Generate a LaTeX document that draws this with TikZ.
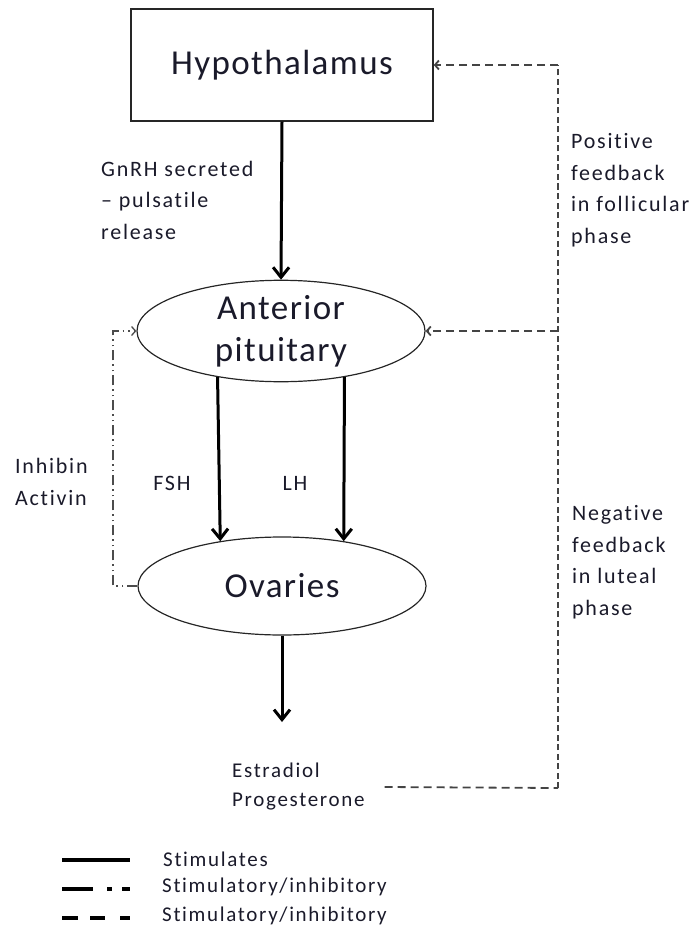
\documentclass[tikz,border=0pt]{standalone}
\usepackage{fontspec}
\setmainfont{Carlito}
\newfontfamily\organface{Carlito}[LetterSpace=4,Ligatures={NoCommon}]
\newfontfamily\labelface{Carlito}[LetterSpace=8,Ligatures={NoCommon}]
\usetikzlibrary{arrows.meta,shapes.geometric}
\definecolor{ink}{HTML}{1A1A2A}
\definecolor{fbgray}{HTML}{444444}
\newcommand{\organtext}{\organface\fontsize{35}{42}\selectfont}
\newcommand{\labeltext}{\labelface\fontsize{22}{31.5}\selectfont}
\newcommand{\keytext}{\labelface\fontsize{21}{28}\selectfont}

\begin{document}
\begin{tikzpicture}[x=1pt,y=-1pt,
  organ/.style={draw=black!85, line width=1.2pt, inner sep=0pt,
    font=\organtext, text=ink, align=center},
  lbl/.style={inner sep=0pt, font=\labeltext, text=ink, align=left},
  stim/.style={line width=3pt, black, -{Straight Barb[length=10pt,width=16pt]}},
  modline/.style={line width=1.3pt, black!70,
    dash pattern=on 10pt off 4pt on 1.5pt off 4pt on 1.5pt off 4pt},
  fbh/.style={line width=1.8pt, fbgray, dash pattern=on 8pt off 5pt},
  fbv/.style={line width=1.8pt, fbgray, dash pattern=on 6pt off 3.5pt},
  smalltip/.style={-{Straight Barb[length=4pt,width=9pt]}}
]
\useasboundingbox (0,0) rectangle (698,928);

% organs
\node[draw=black!85, line width=1.4pt, inner sep=0pt, minimum width=302pt,
  minimum height=112pt, font=\organtext, text=ink] (hyp) at (282,65) {Hypothalamus};
\node[organ, ellipse, minimum width=288pt, minimum height=98pt] (ap) at (281,331)
  {Anterior\\pituitary};
\node[organ, ellipse, minimum width=288pt, minimum height=98pt] (ov) at (282,586)
  {Ovaries};

% labels
\node[lbl, anchor=west] (gnrh) at (101,200) {GnRH secreted\\– pulsatile\\release};
\node[lbl, anchor=west] (pos) at (571,190) {Positive\\feedback\\in follicular\\phase};
\node[lbl, anchor=west] (neg) at (572,562) {Negative\\feedback\\in luteal\\phase};
\node[lbl, anchor=west] (inh) at (15,482) {Inhibin\\Activin};
\node[lbl] (fsh) at (172,483) {FSH};
\node[lbl] (lh) at (295,483) {LH};
\node[lbl, anchor=west, font=\labelface\fontsize{21}{29}\selectfont] (est) at (232,787)
  {Estradiol\\Progesterone};

% stimulatory pathway
\coordinate (hormones) at (282,722);
\draw[stim] (hyp.south) -- (ap.north);
\draw[stim] (ap.-144.5) -- (ov.144.5);
\draw[stim] (ap.-36.6) -- (ov.36.6);
\draw[stim] (ov.south) -- (hormones);

% inhibin / activin loop
\coordinate (ib) at (113,586);
\coordinate (it) at (113,331);
\draw[modline, smalltip] (ov.west) -- (ib) -- (it) -- (ap.west);

% steroid feedback loop
\coordinate (fb) at (558,788);
\coordinate (ft) at (558,65);
\draw[fbh] ([xshift=20pt]est.east) -- (fb);
\draw[fbv] (fb) -- (ft);
\draw[fbh, smalltip] (ft) -- (hyp.east);
\draw[fbh, smalltip] (ft |- ap.east) -- (ap.east);

% key
\coordinate (k1a) at (62,860); \coordinate (k1b) at (130,860);
\coordinate (k2a) at (62,889); \coordinate (k2b) at (130,889);
\coordinate (k3a) at (62,918); \coordinate (k3b) at (130,918);
\draw[line width=3.5pt] (k1a) -- (k1b);
\draw[line width=3.5pt, dash pattern=on 31pt off 14pt on 5pt off 10pt on 8pt off 10pt] (k2a) -- (k2b);
\draw[line width=3.5pt, dash pattern=on 16pt off 12pt on 15pt off 15pt on 10pt off 10pt] (k3a) -- (k3b);
\node[inner sep=0pt, font=\keytext, text=ink, anchor=west] (k1) at (163,859) {Stimulates};
\node[inner sep=0pt, font=\keytext, text=ink, anchor=west] (k2) at (162,887) {Stimulatory/inhibitory};
\node[inner sep=0pt, font=\keytext, text=ink, anchor=west] (k3) at (162,916) {Stimulatory/inhibitory};
\end{tikzpicture}
\end{document}
